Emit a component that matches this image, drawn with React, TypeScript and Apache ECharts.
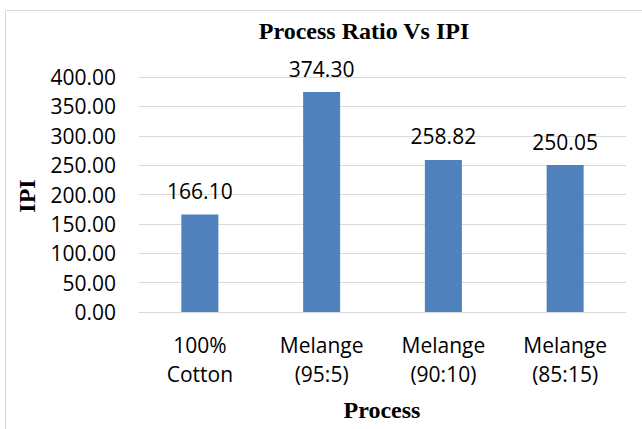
import React, { useEffect, useRef } from "react";
import * as echarts from "echarts";

const categories = ["100%\nCotton", "Melange\n(95:5)", "Melange\n(90:10)", "Melange\n(85:15)"];
const ipiValues = [166.1, 374.3, 258.82, 250.05];
const yMin = 0;
const yMax = 400;
const yInterval = 50;
const titleText = "Process Ratio Vs IPI";
const xAxisTitle = "Process";
const yAxisTitle = "IPI";

export default function App() {
  const ref = useRef<HTMLDivElement>(null);
  useEffect(() => {
    document.body.style.margin = "0";
    if (!ref.current) return;
    const chart = echarts.init(ref.current, null, { renderer: "svg" });
    const sans = "'Open Sans', 'Noto Sans', sans-serif";
    const serif = "'Liberation Serif', 'DejaVu Serif', serif";
    chart.setOption({
      animation: false,
      backgroundColor: "#ffffff",
      grid: { left: 139, right: 16, top: 77, bottom: 117, containLabel: false },
      xAxis: {
        type: "category",
        data: categories,
        axisLine: { show: true, lineStyle: { color: "#d9d9d9", width: 1 } },
        axisTick: { show: false },
        axisLabel: {
          color: "#000000",
          fontFamily: sans,
          fontSize: 21,
          lineHeight: 29,
          margin: 18,
          interval: 0,
        },
      },
      yAxis: {
        type: "value",
        min: yMin,
        max: yMax,
        interval: yInterval,
        axisLine: { show: false },
        axisTick: { show: false },
        splitLine: { lineStyle: { color: "#d9d9d9", width: 1 } },
        axisLabel: {
          color: "#000000",
          fontFamily: sans,
          fontSize: 21,
          margin: 23,
          formatter: (v: number) => v.toFixed(2),
        },
      },
      series: [
        {
          type: "bar",
          data: ipiValues,
          barWidth: 37,
          itemStyle: { color: "#4f81bd" },
          label: {
            show: true,
            position: "top",
            distance: 13,
            color: "#000000",
            fontFamily: sans,
            fontSize: 21,
            formatter: (p: any) => Number(p.value).toFixed(2),
          },
        },
      ],
      graphic: [
        {
          type: "rect",
          shape: { x: 5.5, y: 10.5, width: 700, height: 500 },
          style: { fill: "none", stroke: "#d9d9d9", lineWidth: 1 },
          silent: true,
          z: -10,
        },
        {
          type: "text",
          x: 364,
          y: 31,
          style: {
            text: titleText,
            fontFamily: serif,
            fontWeight: "bold",
            fontSize: 24,
            fill: "#000000",
            textAlign: "center",
            textVerticalAlign: "middle",
          },
        },
        {
          type: "text",
          x: 382,
          y: 410,
          style: {
            text: xAxisTitle,
            fontFamily: serif,
            fontWeight: "bold",
            fontSize: 24,
            fill: "#000000",
            textAlign: "center",
            textVerticalAlign: "middle",
          },
        },
        {
          type: "text",
          x: 27,
          y: 196,
          rotation: Math.PI / 2,
          style: {
            text: yAxisTitle,
            fontFamily: serif,
            fontWeight: "bold",
            fontSize: 24,
            fill: "#000000",
            textAlign: "center",
            textVerticalAlign: "middle",
          },
        },
      ],
    });
    return () => chart.dispose();
  }, []);
  return <div ref={ref} style={{ width: 642, height: 429 }} />;
}
